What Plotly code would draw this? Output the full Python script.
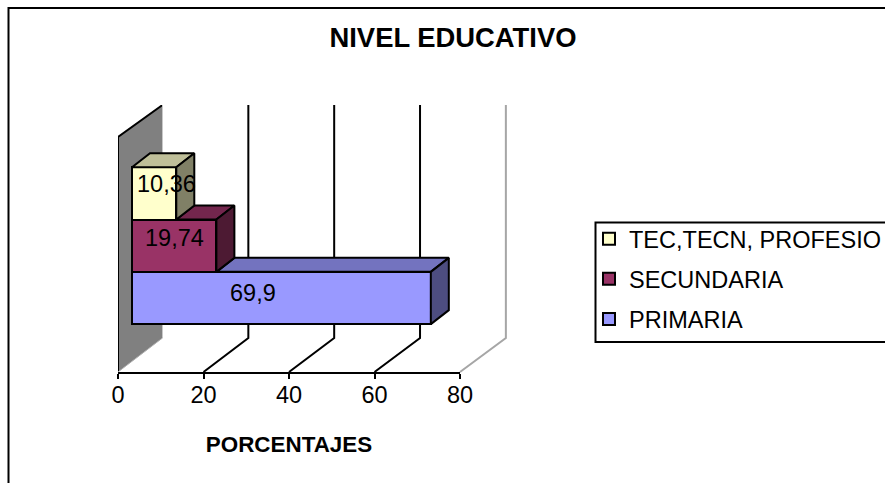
import plotly.graph_objects as go

# ---- data ----
categories = ["TEC,TECN, PROFESIO", "SECUNDARIA", "PRIMARIA"]
values = [10.36, 19.74, 69.9]
value_labels = ["10,36", "19,74", "69,9"]
positions = [2, 1, 0]
tick_values = [0, 20, 40, 60, 80]

# ---- style ----
front = ["#FFFFCC", "#993366", "#9999FF"]
top = ["#BFBF99", "#73264D", "#7373BF"]
side = ["#808066", "#4D1A33", "#4D4D80"]
label_xshift = [12, 0, -28]
label_yshift = [9, 8, 5]

W, H = 885, 483
L, R, T, B = 118, 460, 105, 372
PX_X = (R - L) / 80
PX_Y = 52.3
Y0 = -(B - 298) / PX_Y
Y1 = (298 - T) / PX_Y
WALL_DY = 34 / PX_Y
BASE = 14 / PX_X
BAR_DX, BAR_DY = 18 / PX_X, 14 / PX_Y
WALL_TOP_FRONT = Y0 + 235 / PX_Y
FONT = "Liberation Sans"
TXT = 23.5

fig = go.Figure()

for name, v, p, c in zip(categories, values, positions, front):
    fig.add_trace(go.Bar(
        name=name, y=[p], x=[v], base=[BASE], orientation="h", width=1,
        marker=dict(color=c, line=dict(color="black", width=2)),
        legendgroup=name, hoverinfo="skip",
    ))


def face(xs, ys, color):
    fig.add_trace(go.Scatter(
        x=xs, y=ys, mode="lines", fill="toself", fillcolor=color,
        line=dict(color="black", width=2), showlegend=False, hoverinfo="skip",
    ))


order = [2, 1, 0]  # draw from the bottom bar up
for i in order:
    v, p = values[i], positions[i]
    start = values[i - 1] if i > 0 else 0
    yt = p + 0.5
    yb = p - 0.5
    face([BASE + start, BASE + v, BASE + v + BAR_DX, BASE + start + BAR_DX, BASE + start],
         [yt, yt, yt + BAR_DY, yt + BAR_DY, yt], top[i])
    face([BASE + v, BASE + v + BAR_DX, BASE + v + BAR_DX, BASE + v, BASE + v],
         [yb, yb + BAR_DY, yt + BAR_DY, yt, yb], side[i])


def px(x):
    return (x - L) / (R - L)


def py(y):
    return (B - y) / (B - T)


def back(t):
    """Position on the back wall of the axis value t (the back wall is drawn in perspective)."""
    return t * 1.004 + 44.5 / PX_X


def dx(x):
    return x / 80


def dy(y):
    return (y - Y0) / (Y1 - Y0)


WX = back(0)
shapes = [
    dict(type="path", layer="below", xref="x", yref="y",
         path=f"M0,{Y0} L0,{WALL_TOP_FRONT} L{WX},{Y1} L{WX},{Y0 + WALL_DY} Z",
         fillcolor="#808080", line=dict(width=0)),
    dict(type="path", layer="below", xref="x", yref="y",
         path=f"M0,{Y0} L0,{WALL_TOP_FRONT} L{WX},{Y1}",
         line=dict(color="black", width=2)),
    dict(type="line", layer="below", xref="x", yref="y",
         x0=WX, x1=WX, y0=Y0 + WALL_DY, y1=Y1,
         line=dict(color="#C8C8C8", width=1)),
    dict(type="line", layer="below", xref="x", yref="y",
         x0=0, x1=WX, y0=Y0, y1=Y0 + WALL_DY,
         line=dict(color="#B0B0B0", width=1)),
    # edge of the back wall at the axis maximum, past the plot box, so in paper coordinates
    dict(type="path", layer="below", xref="paper", yref="paper",
         path=(f"M{dx(tick_values[-1])},{dy(Y0)} "
               f"L{dx(back(tick_values[-1]))},{dy(Y0 + WALL_DY)} "
               f"L{dx(back(tick_values[-1]))},{dy(Y1)}"),
         line=dict(color="#A6A6A6", width=2)),
    # frame of the chart area
    dict(type="line", xref="paper", yref="paper",
         x0=px(8.5), x1=px(8.5), y0=py(H), y1=py(7),
         line=dict(color="black", width=2)),
    dict(type="line", xref="paper", yref="paper",
         x0=px(8), x1=px(W), y0=py(8), y1=py(8),
         line=dict(color="black", width=2)),
    # legend box, running off the right edge as in the reference
    dict(type="rect", layer="below", xref="paper", yref="paper",
         x0=px(595.5), x1=px(W + 10), y0=py(342), y1=py(222.5),
         line=dict(color="black", width=2), fillcolor="white"),
]
for t in tick_values[1:-1]:
    shapes.append(dict(type="path", layer="below", xref="x", yref="y",
                       path=f"M{t},{Y0} L{back(t)},{Y0 + WALL_DY} L{back(t)},{Y1}",
                       line=dict(color="black", width=2)))

annotations = [
    dict(x=BASE + v / 2, y=p, text=t, showarrow=False, xref="x", yref="y",
         xshift=xs, yshift=ys, font=dict(family=FONT, size=TXT, color="black"))
    for v, p, t, xs, ys in zip(values, positions, value_labels, label_xshift, label_yshift)
]

fig.update_layout(
    width=W, height=H,
    autosize=False,
    margin=dict(l=L, r=W - R, t=T, b=H - B),
    paper_bgcolor="white", plot_bgcolor="rgba(0,0,0,0)",
    barmode="overlay", bargap=0,
    font=dict(family=FONT, size=TXT, color="black"),
    title=dict(text="<b>NIVEL EDUCATIVO</b>", x=453 / W, xanchor="center",
               y=1 - 37 / H, yanchor="middle",
               font=dict(family=FONT, size=27.4, color="black")),
    xaxis=dict(range=[0, 80], tickvals=tick_values, showgrid=False, zeroline=False,
               showline=True, linecolor="black", linewidth=2,
               ticks="outside", ticklen=5, tickwidth=2, tickcolor="black",
               tickfont=dict(size=TXT), ticklabelstandoff=-4,
               title=dict(text="<b>PORCENTAJES</b>", standoff=29,
                          font=dict(family=FONT, size=22.4))),
    yaxis=dict(range=[Y0, Y1], visible=False),
    legend=dict(xref="container", yref="container",
                x=589 / W, xanchor="left", y=1 - 217 / H, yanchor="top",
                borderwidth=0, bgcolor="rgba(0,0,0,0)",
                tracegroupgap=6.5, traceorder="grouped",
                font=dict(family=FONT, size=TXT, color="black")),
    shapes=shapes,
    annotations=annotations,
)

fig.write_html("out.html", config={"displayModeBar": False},
               post_script="document.body.style.margin='0';document.body.style.overflow='hidden';")
